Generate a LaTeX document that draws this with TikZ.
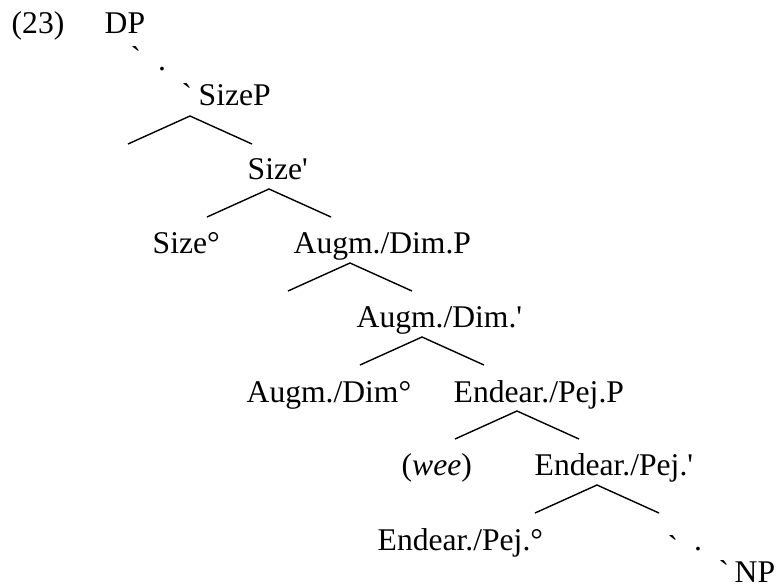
\documentclass[tikz,border=0pt]{standalone}
\usepackage{fontspec}
\setmainfont{Liberation Serif}
\usepackage{tikz}

\begin{document}
\begin{tikzpicture}[x=0.5pt, y=-0.5pt, line width=0.7pt,
        lbl/.style={anchor=base west, inner sep=0pt, font=\fontsize{15.8}{18}\selectfont},
        glyph/.style={anchor=base, inner sep=0pt, font=\fontsize{15.8}{18}\selectfont}]
        \useasboundingbox (0, 0) rectangle (783, 586);

        \node[lbl] (ex) at (11, 33) {(23)};
        \node[lbl] (dp) at (104, 33) {DP};

        \node[glyph] (g1) at (136, 68) {\textasciigrave};
        \node[glyph] (d1) at (162, 70) {.};
        \node[glyph] (g2) at (187, 105) {\textasciigrave};
        \node[lbl] (sizep) at (198, 105) {SizeP};

        \node[lbl] (sizebar) at (247, 179) {Size\textquotesingle};
        \node[lbl] (sizehead) at (152, 253) {Size°};
        \node[lbl] (augp) at (293, 253) {Augm./Dim.P};
        \node[lbl] (augbar) at (356, 327) {Augm./Dim.\textquotesingle};
        \node[lbl] (aughead) at (246, 402) {Augm./Dim°};
        \node[lbl] (endp) at (453, 402) {Endear./Pej.P};
        \node[lbl] (wee) at (401, 475) {(\textit{wee})};
        \node[lbl] (endbar) at (534, 475) {Endear./Pej.\textquotesingle};
        \node[lbl] (endhead) at (377, 550) {Endear./Pej.°};

        \node[glyph] (g3) at (673, 557) {\textasciigrave};
        \node[glyph] (d2) at (698, 550) {.};
        \node[glyph] (g4) at (724, 582) {\textasciigrave};
        \node[lbl] (np) at (734, 582) {NP};

        \foreach \n/\x/\y in {sz/190/116, szb/269/189, ag/350/263, agb/422/337, en/517/411, enb/597/485} {
            \coordinate (\n top) at (\x, \y);
            \coordinate (\n left) at (\x-62, \y+28);
            \coordinate (\n right) at (\x+62, \y+28);
            \draw (\n left) -- (\n top) -- (\n right);
        }
\end{tikzpicture}
\end{document}
